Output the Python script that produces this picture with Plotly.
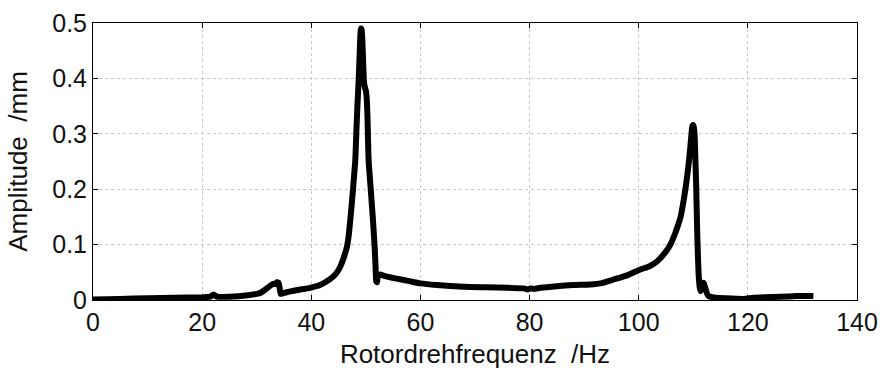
import plotly.graph_objects as go

freq = [0, 5, 10, 15, 20, 21.5, 22.1, 22.7, 25, 28, 30, 30.7, 31.6, 32.5, 33.0, 33.4, 33.7, 34.0, 34.2,
        34.4, 34.8, 35.5, 37.5, 39.8, 41.6, 43.5, 44.5, 45.3, 46.0, 46.55, 46.9, 47.15, 47.4, 47.64,
        47.85, 48.07, 48.25, 48.45, 48.68, 48.85, 48.98, 49.1, 49.22, 49.35, 49.5, 49.65, 49.8,
        50.0, 50.15, 50.3, 50.5, 50.9, 51.3, 51.6, 51.8, 51.9, 52.05, 52.2,
        52.65, 53.5, 55.4, 58, 60, 63, 67.9, 72, 76, 79, 79.6, 80.2, 80.8, 82, 85, 88, 91.1, 93,
        95.4, 98, 100.3, 102, 103.4, 104.8, 105.8, 106.7, 107.2, 107.7, 108.1, 108.54, 108.9, 109.2,
        109.45, 109.65, 109.8, 109.95, 110.1, 110.25, 110.4, 110.55, 110.7, 110.85, 111.0, 111.2,
        111.35, 111.6, 111.9, 112.2, 112.5, 112.8, 113.5, 114, 116, 119.2,
        121, 123, 126, 129, 132]
amp = [0.001, 0.002, 0.003, 0.004, 0.005, 0.006, 0.010, 0.006, 0.006, 0.008, 0.011, 0.013, 0.019,
       0.026, 0.029, 0.029, 0.032, 0.031, 0.022, 0.011, 0.012, 0.014, 0.018, 0.022, 0.027, 0.038,
       0.047, 0.060, 0.078, 0.097, 0.120, 0.145, 0.172, 0.199, 0.225, 0.253, 0.301, 0.350, 0.397,
       0.440, 0.475, 0.490, 0.488, 0.470, 0.430, 0.395, 0.385, 0.378, 0.365, 0.330, 0.253, 0.199,
       0.145, 0.097, 0.055, 0.034, 0.032, 0.044,
       0.046, 0.043, 0.039, 0.034, 0.030, 0.027, 0.024, 0.023, 0.022, 0.021, 0.019, 0.021,
       0.020, 0.022, 0.025, 0.027, 0.028, 0.030, 0.037, 0.045, 0.055, 0.061, 0.070, 0.085, 0.100,
       0.121, 0.135, 0.151, 0.172, 0.199, 0.225, 0.250, 0.275, 0.298, 0.312, 0.316, 0.312,
       0.295, 0.250, 0.199, 0.130, 0.080, 0.043, 0.022, 0.016, 0.025, 0.031, 0.022, 0.012,
       0.007, 0.005, 0.004, 0.003, 0.002, 0.004, 0.005, 0.006, 0.007, 0.007]

x_ticks = [0, 20, 40, 60, 80, 100, 120, 140]
y_ticks = [0, 0.1, 0.2, 0.3, 0.4, 0.5]
y_tick_labels = ["0", "0.1", "0.2", "0.3", "0.4", "0.5"]

fig = go.Figure()
fig.add_trace(go.Scatter(x=freq, y=amp, mode="lines",
                         line=dict(color="black", width=6, shape="spline", smoothing=0.5),
                         showlegend=False))

font = "Liberation Sans, Arial, sans-serif"
axis_common = dict(showline=True, linecolor="black", linewidth=1, mirror="ticks",
                   ticks="inside", ticklen=5, tickcolor="black", automargin=False,
                   showgrid=True, gridcolor="#c8c8c8", griddash="dot", gridwidth=1,
                   zeroline=False, tickfont=dict(family=font, size=25, color="#111111"))

fig.update_layout(
    width=882, height=370,
    margin=dict(l=93, r=25, t=23, b=70),
    paper_bgcolor="white", plot_bgcolor="white",
    xaxis=dict(range=[0, 140], tickvals=x_ticks,
               title=dict(text="Rotordrehfrequenz  /Hz", font=dict(family=font, size=26, color="#111111"),
                          standoff=9),
               **axis_common),
    yaxis=dict(range=[0, 0.5], tickvals=y_ticks, ticktext=y_tick_labels,
               title=dict(text="Amplitude  /mm", font=dict(family=font, size=26, color="#111111"),
                          standoff=17),
               **axis_common),
)

fig.write_html("out.html")
